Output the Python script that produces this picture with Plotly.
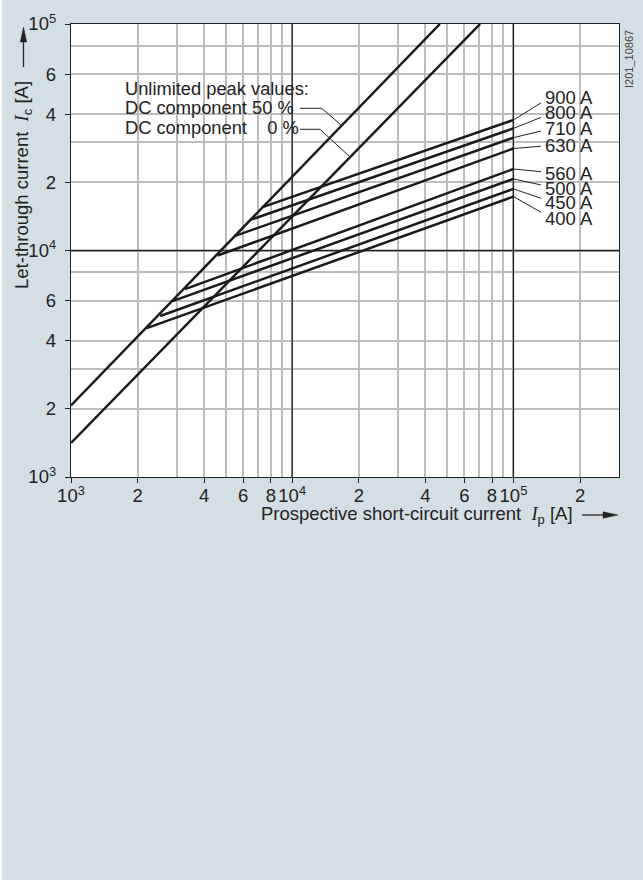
import numpy as np
import plotly.graph_objects as go

# ---------------- data ----------------
ratings = ["900 A", "800 A", "710 A", "630 A", "560 A", "500 A", "450 A", "400 A"]
start_ip = [7290, 6460, 5520, 4600, 3280, 2880, 2530, 2200]
start_ic = [15500, 13650, 11600, 9500, 6750, 5980, 5140, 4540]
end_ip = [100000] * 8
end_ic = [37700, 34600, 31500, 28200, 22900, 20700, 18700, 17300]

dc50_ip = [1000, 46500]
dc50_ic = [2070, 100000]
dc0_ip = [1000, 70700]
dc0_ic = [1414, 100000]

x_tickvals = [1e3, 2e3, 4e3, 6e3, 8e3, 1e4, 2e4, 4e4, 6e4, 8e4, 1e5, 2e5]
x_ticktext = ["10<sup>3</sup>", "2", "4", "6", "8", "10<sup>4</sup>", "2", "4", "6", "8", "10<sup>5</sup>", "2"]
x_minor = [3e3, 5e3, 7e3, 9e3, 3e4, 5e4, 7e4, 9e4, 3e5]
y_tickvals = [1e3, 2e3, 4e3, 6e3, 1e4, 2e4, 4e4, 6e4, 1e5]
y_ticktext = ["10<sup>3</sup>", "2", "4", "6", "10<sup>4</sup>", "2", "4", "6", "10<sup>5</sup>"]
y_minor = [3e3, 8e3, 3e4, 8e4]
decades_x = [1e4, 1e5]
decades_y = [1e4]

X_RANGE = [3, np.log10(3e5)]
Y_RANGE = [3, 5]

# label placement (pixel offsets from line end) - layout only
leader_dy = [-17, -11, -6.6, -2.3, 2.7, 6, 9.3, 15.6]
text_dy = [-22.6, -15.6, -9, -3, 4.4, 9.3, 13.7, 21.6]

# ---------------- layout geometry ----------------
OX = 2                      # page offset (left white strip)
W, H = 643 - OX, 880
L, R, T, B = 71 - OX, 24, 24, 403
PW, PH = W - L - R, H - T - B


def px(xp):   # image pixel x -> paper
    return (xp - OX - L) / PW


def py(yp):   # image pixel y -> paper
    return (H - B - yp) / PH


def dx_paper(v):
    return (np.log10(v) - X_RANGE[0]) / (X_RANGE[1] - X_RANGE[0])


def dy_paper(v):
    return (np.log10(v) - Y_RANGE[0]) / (Y_RANGE[1] - Y_RANGE[0])


FONT = "Liberation Sans, Arial, Helvetica, sans-serif"
TXT = "#222222"
BG = "#d4dfe5"
INK = "#1a1a1a"
FS = 18.5

fig = go.Figure()

# decade reference lines (dark)
for xv in decades_x:
    fig.add_trace(go.Scatter(x=[xv, xv], y=[10 ** Y_RANGE[0], 10 ** Y_RANGE[1]], mode="lines",
                             line=dict(color="#222222", width=1.3),
                             hoverinfo="skip", showlegend=False))
for yv in decades_y:
    fig.add_trace(go.Scatter(x=[10 ** X_RANGE[0], 10 ** X_RANGE[1]], y=[yv, yv], mode="lines",
                             line=dict(color="#222222", width=1.3),
                             hoverinfo="skip", showlegend=False))

# unlimited peak value lines
fig.add_trace(go.Scatter(x=dc50_ip, y=dc50_ic, mode="lines",
                         line=dict(color=INK, width=2.5), showlegend=False))
fig.add_trace(go.Scatter(x=dc0_ip, y=dc0_ic, mode="lines",
                         line=dict(color=INK, width=2.5), showlegend=False))

# fuse rating lines
for i, r in enumerate(ratings):
    fig.add_trace(go.Scatter(x=[start_ip[i], end_ip[i]], y=[start_ic[i], end_ic[i]],
                             mode="lines", name=r,
                             line=dict(color=INK, width=2.5), showlegend=False))

annotations = []
shapes = []
for i, r in enumerate(ratings):
    hx = dx_paper(end_ip[i])
    hy = dy_paper(end_ic[i])
    shapes.append(dict(type="line", xref="paper", yref="paper",
                       x0=hx, y0=hy, x1=hx + 27.5 / PW, y1=hy - leader_dy[i] / PH,
                       line=dict(color="#222222", width=1)))
    annotations.append(dict(x=hx, y=hy, xref="paper", yref="paper", text=r, showarrow=False,
                            xanchor="left", yanchor="middle", xshift=30, yshift=-text_dy[i],
                            font=dict(family=FONT, size=18.5, color=TXT)))

# DC component block
for txt, xx, yy in [("Unlimited peak values:", 123, 88),
                    ("DC component 50 %", 123, 108),
                    ("DC component \u2007\u00a00 %", 123, 127.5)]:
    annotations.append(dict(x=px(xx), y=py(yy), xref="paper", yref="paper", text=txt,
                            showarrow=False, xanchor="left", yanchor="middle",
                            font=dict(family=FONT, size=18.3, color=TXT)))

shapes += [
    dict(type="path", xref="paper", yref="paper",
         path=f"M {px(300)} {py(108.3)} L {px(321.7)} {py(108.3)} L {px(341)} {py(125)}",
         line=dict(color="#222222", width=1)),
    dict(type="path", xref="paper", yref="paper",
         path=f"M {px(300)} {py(129.3)} L {px(320)} {py(129.3)} L {px(349)} {py(156)}",
         line=dict(color="#222222", width=1)),
]

# axis titles
ital = "<span style='font-family:Liberation Serif, Times New Roman, serif'><i>I</i></span>"
annotations += [
    dict(x=px(575), y=py(515), xref="paper", yref="paper",
         text="Prospective short-circuit current \u00a0" + ital + "<sub>p</sub> [A]",
         showarrow=False, xanchor="right", yanchor="middle",
         font=dict(family=FONT, size=FS, color=TXT)),
    dict(x=px(23), y=py(185), xref="paper", yref="paper",
         text="Let-through current \u00a0" + ital + "<sub>c</sub> [A]",
         showarrow=False, textangle=-90, xanchor="center", yanchor="middle",
         font=dict(family=FONT, size=FS, color=TXT)),
    dict(x=px(629), y=py(59), xref="paper", yref="paper", text="I201_10867",
         showarrow=False, textangle=-90, xanchor="center", yanchor="middle",
         font=dict(family=FONT, size=11, color="#444444")),
]

# axis-title arrows
shapes += [
    dict(type="line", xref="paper", yref="paper", x0=px(582), y0=py(515), x1=px(606), y1=py(515),
         line=dict(color="#222222", width=1.3)),
    dict(type="path", xref="paper", yref="paper",
         path=f"M {px(603)} {py(511.8)} L {px(618)} {py(515)} L {px(603)} {py(518.2)} Z",
         fillcolor="#222222", line=dict(color="#222222", width=0.5)),
    dict(type="line", xref="paper", yref="paper", x0=px(23.5), y0=py(67), x1=px(23.5), y1=py(40),
         line=dict(color="#222222", width=1.3)),
    dict(type="path", xref="paper", yref="paper",
         path=f"M {px(20.3)} {py(42)} L {px(23.5)} {py(27)} L {px(26.7)} {py(42)} Z",
         fillcolor="#222222", line=dict(color="#222222", width=0.5)),
]

axis_common = dict(
    type="log",
    showline=True, linecolor="#222222", linewidth=1.3, mirror=True,
    ticks="outside", ticklen=5, tickcolor="#222222", tickwidth=1,
    showgrid=True, gridcolor="#bdbdbd", gridwidth=1.5,
    tickfont=dict(family=FONT, size=FS, color=TXT), tickangle=0,
    zeroline=False, fixedrange=True,
)

fig.update_layout(
    width=W, height=H,
    margin=dict(l=L, r=R, t=T, b=B, pad=0),
    paper_bgcolor=BG, plot_bgcolor="white",
    showlegend=False,
    xaxis=dict(axis_common, range=X_RANGE, tickmode="array",
               tickvals=x_tickvals, ticktext=x_ticktext, ticklabelstandoff=-3,
               minor=dict(tickmode="array", tickvals=x_minor, showgrid=True,
                          gridcolor="#bdbdbd", gridwidth=1.5, ticks="")),
    yaxis=dict(axis_common, range=Y_RANGE, tickmode="array",
               tickvals=y_tickvals, ticktext=y_ticktext, ticklabelstandoff=5,
               minor=dict(tickmode="array", tickvals=y_minor, showgrid=True,
                          gridcolor="#bdbdbd", gridwidth=1.5, ticks="")),
    annotations=annotations,
    shapes=shapes,
)

fig.write_html("out.html",
               post_script="document.body.style.margin='0';document.body.style.marginLeft='2px';"
                           "document.body.style.background='white';")
